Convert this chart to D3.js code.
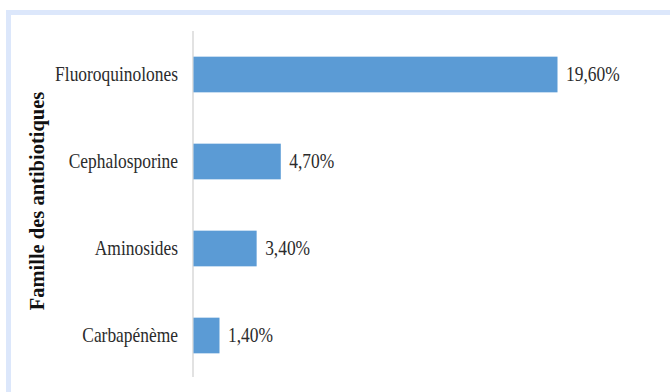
<!DOCTYPE html>
<html>
<head>
<meta charset="utf-8">
<script src="https://cdn.jsdelivr.net/npm/d3@7"></script>
<style>
  body { margin: 0; background: #fff; }
</style>
</head>
<body>
<div id="chart"></div>
<script>
const width = 670, height = 392;
const serif = "Liberation Serif";
const squeeze = 0.85; // text in the source picture is narrow

// data
const categories = ["Fluoroquinolones", "Cephalosporine", "Aminosides", "Carbapénème"];
const values = [19.6, 4.7, 3.4, 1.4];
const valueLabels = ["19,60%", "4,70%", "3,40%", "1,40%"];
const axisTitle = "Famille des antibiotiques";

var svg = d3.select("#chart").append("svg")
    .attr("width", width)
    .attr("height", height);

// light blue frame round the picture
svg.append("rect")
    .attr("x", 8.5).attr("y", 12.5)
    .attr("width", 700).attr("height", 500)
    .attr("fill", "none")
    .attr("stroke", "#dce7fb")
    .attr("stroke-width", 5);

var x = d3.scaleLinear()
    .domain([0, 19.6])
    .range([193, 557]);

var y = d3.scaleBand()
    .domain(categories)
    .range([31, 379])
    .paddingInner(0.59)
    .paddingOuter(0.295);

// vertical axis line, no ticks
svg.append("line")
    .attr("x1", x(0)).attr("x2", x(0))
    .attr("y1", 31).attr("y2", 377)
    .attr("stroke", "#d9d9d9")
    .attr("stroke-width", 1.5);

svg.selectAll(".bar")
    .data(values)
    .enter()
    .append("rect")
    .attr("class", "bar")
    .attr("x", x(0) + 0.5)
    .attr("y", function (d, i) { return y(categories[i]); })
    .attr("width", function (d) { return x(d) - x(0); })
    .attr("height", y.bandwidth())
    .attr("fill", "#5b9bd5");

function mid(i) { return y(categories[i]) + y.bandwidth() / 2 + 6.5; }

// category names
svg.selectAll(".cat")
    .data(categories)
    .enter()
    .append("text")
    .attr("class", "cat")
    .attr("transform", function (d, i) {
        return "translate(" + (x(0) - 15) + "," + mid(i) + ") scale(" + squeeze + ",1)";
    })
    .attr("text-anchor", "end")
    .style("font-family", serif)
    .attr("font-size", 20.5)
    .attr("fill", "#2b2b2b")
    .text(function (d) { return d; });

// value labels
svg.selectAll(".val")
    .data(values)
    .enter()
    .append("text")
    .attr("class", "val")
    .attr("transform", function (d, i) {
        return "translate(" + (x(d) + 9) + "," + mid(i) + ") scale(" + squeeze + ",1)";
    })
    .style("font-family", serif)
    .attr("font-size", 20.5)
    .attr("fill", "#2b2b2b")
    .text(function (d, i) { return valueLabels[i]; });

svg.append("text")
    .attr("transform", "translate(44,201) rotate(-90)")
    .attr("text-anchor", "middle")
    .style("font-family", serif)
    .attr("font-size", 20.5)
    .attr("font-weight", "bold")
    .attr("fill", "#111")
    .text(axisTitle);
</script>
</body>
</html>
